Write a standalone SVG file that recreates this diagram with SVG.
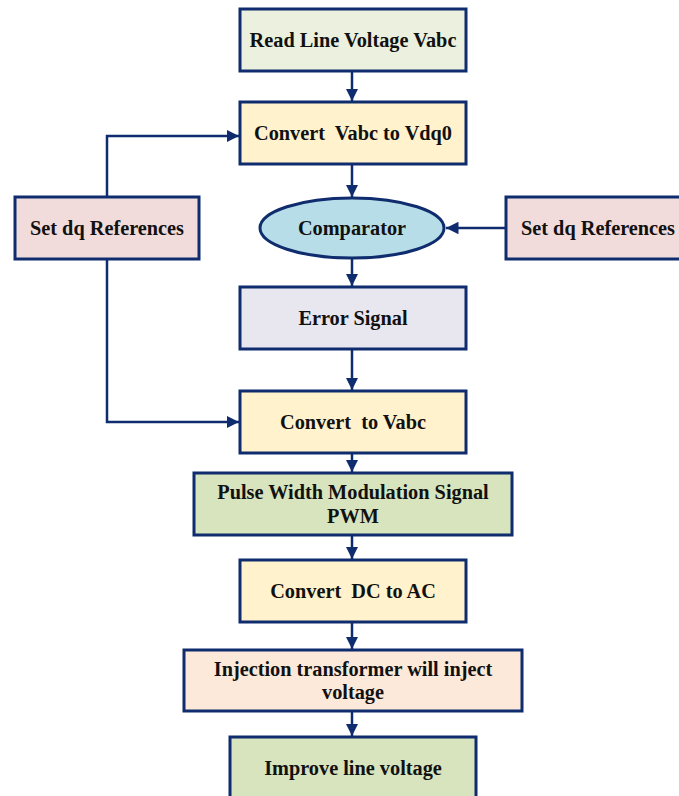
<svg xmlns="http://www.w3.org/2000/svg" width="679" height="796" viewBox="0 0 679 796">
<style>
.b{stroke:#0f2c6e;stroke-width:3}
.t{font-family:"Liberation Serif","Times New Roman",serif;font-weight:bold;font-size:20.3px;fill:#111;text-anchor:middle;dominant-baseline:central;white-space:pre}
.c{fill:none;stroke:#0f2c6e;stroke-width:2.5}
</style>
<defs>
<marker id="a" viewBox="0 0 10 10" refX="10" refY="5" markerWidth="5" markerHeight="5" markerUnits="strokeWidth" orient="auto">
<path d="M0,0 L10,5 L0,10 z" fill="#0f2c6e"/>
</marker>
</defs>
<rect width="679" height="796" fill="#fff"/>
<g id="connectors">
<path class="c" d="M352,71 V101" marker-end="url(#a)"/>
<path class="c" d="M352,164 V197" marker-end="url(#a)"/>
<path class="c" d="M352,258 V286" marker-end="url(#a)"/>
<path class="c" d="M352,349 V390" marker-end="url(#a)"/>
<path class="c" d="M352,453 V472" marker-end="url(#a)"/>
<path class="c" d="M352,535 V559" marker-end="url(#a)"/>
<path class="c" d="M352,622 V649" marker-end="url(#a)"/>
<path class="c" d="M352,711 V736" marker-end="url(#a)"/>
<path class="c" d="M506,228 H446" marker-end="url(#a)"/>
<path class="c" d="M107,197 V136 H239" marker-end="url(#a)"/>
<path class="c" d="M107,259 V422 H239" marker-end="url(#a)"/>
</g>
<g id="n1"><rect class="b" x="240" y="9" width="226" height="62" fill="#ebf1de"/><text class="t" x="353" y="40">Read Line Voltage Vabc</text></g>
<g id="n2"><rect class="b" x="240" y="102" width="226" height="62" fill="#fff2cc"/><text class="t" x="353" y="133" xml:space="preserve">Convert  Vabc to Vdq0</text></g>
<g id="n3"><ellipse class="b" cx="352" cy="228" rx="92" ry="30" fill="#b7dde8"/><text class="t" x="352" y="228">Comparator</text></g>
<g id="n4"><rect class="b" x="15" y="197" width="184" height="62" fill="#f2dcdb"/><text class="t" x="107" y="228">Set dq References</text></g>
<g id="n5"><rect class="b" x="506" y="197" width="186" height="62" fill="#f2dcdb"/><text class="t" x="598" y="228">Set dq References</text></g>
<g id="n6"><rect class="b" x="240" y="287" width="226" height="62" fill="#e8e6ef"/><text class="t" x="353" y="318">Error Signal</text></g>
<g id="n7"><rect class="b" x="240" y="391" width="226" height="62" fill="#fff2cc"/><text class="t" x="353" y="422" xml:space="preserve">Convert  to Vabc</text></g>
<g id="n8"><rect class="b" x="194" y="473" width="318" height="62" fill="#d7e4bd"/><text class="t" x="353" y="492">Pulse Width Modulation Signal</text><text class="t" x="353" y="516">PWM</text></g>
<g id="n9"><rect class="b" x="240" y="560" width="226" height="62" fill="#fff2cc"/><text class="t" x="353" y="591" xml:space="preserve">Convert  DC to AC</text></g>
<g id="n10"><rect class="b" x="184" y="650" width="338" height="61" fill="#fde9d9"/><text class="t" x="353" y="669">Injection transformer will inject</text><text class="t" x="353" y="692">voltage</text></g>
<g id="n11"><rect class="b" x="230" y="737" width="246" height="64" fill="#d7e4bd"/><text class="t" x="353" y="768">Improve line voltage</text></g>
</svg>
